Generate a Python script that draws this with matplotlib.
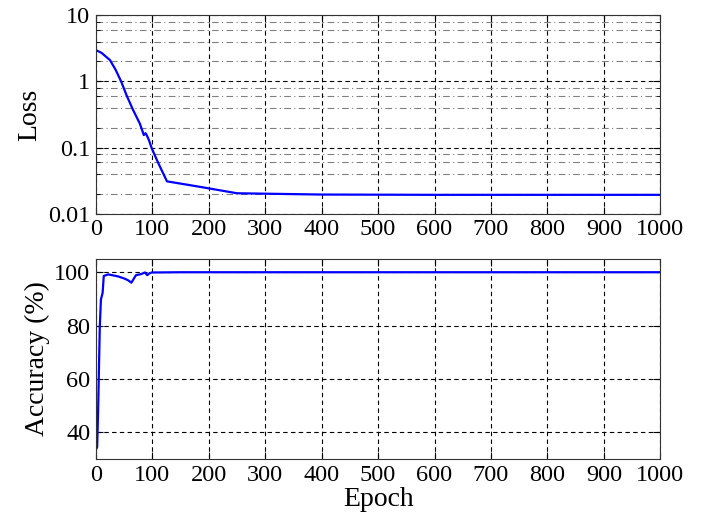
import numpy as np
import matplotlib
matplotlib.use("Agg")
import matplotlib.pyplot as plt
from matplotlib.ticker import FixedLocator, NullFormatter

# values
loss_epoch = [0, 10, 25, 35, 45, 55, 66, 78, 85, 88, 90, 94, 99, 110, 126, 180, 250, 400, 600, 1000]
loss_value = [2.97, 2.7, 2.1, 1.5, 0.99, 0.6, 0.37, 0.23, 0.155, 0.165, 0.155, 0.13, 0.098, 0.06, 0.031, 0.026, 0.0205, 0.0196, 0.0194, 0.0194]

acc_epoch = [1, 2.3, 4, 7, 9, 12, 14, 22, 40, 51, 57, 63, 67, 71, 80, 87, 91, 95, 99, 150, 1000]
acc_value = [34, 34.5, 48, 79.7, 89.8, 92.3, 98.6, 99.2, 98.4, 97.6, 97.0, 96.1, 97.5, 98.9, 99.3, 99.9, 98.9, 99.6, 99.9, 100, 100]

xticks = list(range(0, 1001, 100))

plt.rcParams['font.family'] = ['Liberation Serif', 'DejaVu Serif']
plt.rcParams['font.size'] = 17.5

fig = plt.figure(figsize=(7.1, 5.23), dpi=100)
ax1 = fig.add_axes([0.135, 0.591, 0.795, 0.380])
ax2 = fig.add_axes([0.135, 0.122, 0.795, 0.383])

ax1.plot(loss_epoch, loss_value, color='blue', lw=1.6)
ax1.set_yscale('log')
ax1.set_xlim(0, 1000)
ax1.set_ylim(0.01, 10)
ax1.set_yticks([0.01, 0.1, 1, 10])
ax1.set_yticklabels(['0.01', '0.1', '1', '10'])
minors = []
for d in [0.01, 0.1, 1]:
    minors += [2 * d, 4 * d, 6 * d, 8 * d]
ax1.yaxis.set_minor_locator(FixedLocator(minors))
ax1.yaxis.set_minor_formatter(NullFormatter())
ax1.grid(True, which='major', color='black', linestyle=(0, (4, 3)), lw=0.8)
ax1.grid(True, which='minor', axis='y', color='gray', linestyle=(0, (6, 3, 1, 3)), lw=0.8)
ax1.set_ylabel('Loss', fontsize=20, labelpad=4)

ax2.plot(acc_epoch, acc_value, color='blue', lw=1.6)
ax2.set_xlim(0, 1000)
ax2.set_ylim(30, 105)
ax2.set_yticks([40, 60, 80, 100])
ax2.grid(True, color='black', linestyle=(0, (4, 3)), lw=0.8)
ax2.set_ylabel('Accuracy (%)', fontsize=20, labelpad=3)
ax2.set_xlabel('Epoch', fontsize=20, labelpad=1)

for ax in (ax1, ax2):
    ax.set_xticks(xticks)
    ax.tick_params(which='both', direction='in', top=True, right=True, pad=4)
    ax.tick_params(which='major', length=5)
    ax.tick_params(which='minor', length=3)
    ax.set_axisbelow(True)
    for s in ax.spines.values():
        s.set_color('#333333')

fig.savefig('out.png', dpi=100)
